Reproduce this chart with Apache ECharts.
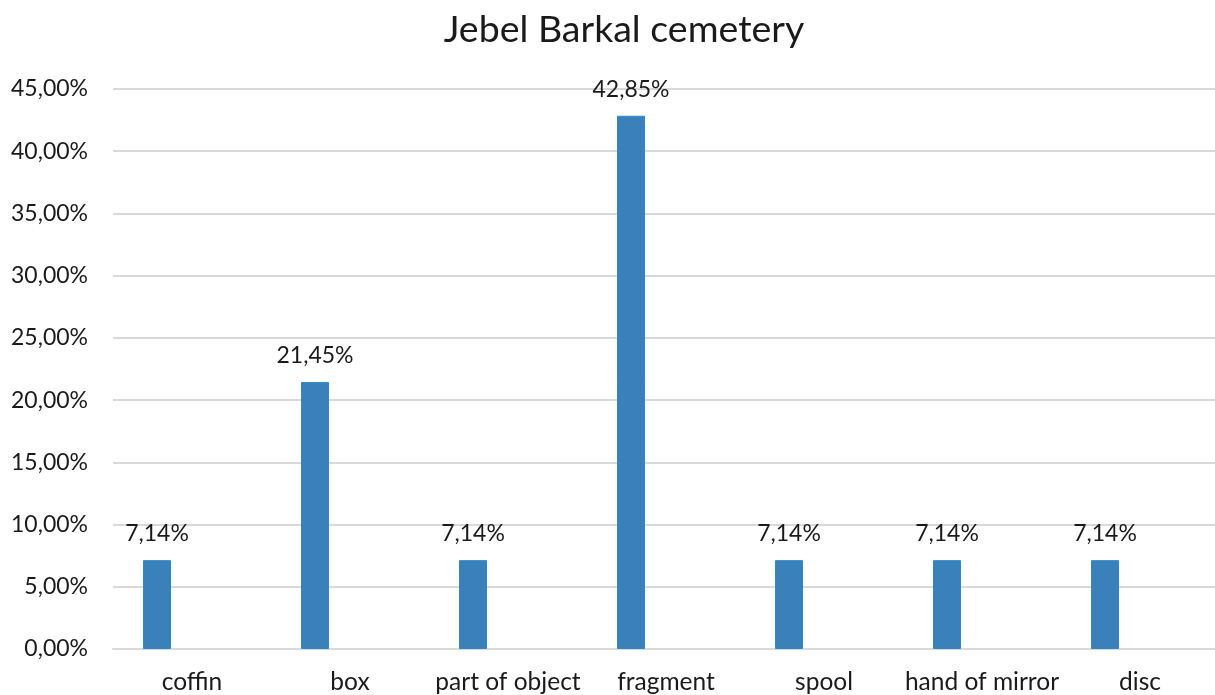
<!DOCTYPE html>
<html>
<head>
<meta charset="utf-8">
<script src="https://cdn.jsdelivr.net/npm/echarts@6/dist/echarts.min.js"></script>
<style>
  html, body { margin: 0; padding: 0; background: #fff; overflow: hidden; }
  /* plot runs slightly past the right edge of the window */
  #chart { width: 1219px; height: 695px; }
</style>
</head>
<body>
<div id="chart"></div>
<script>
// Share of finds by object type (percent)
const categories = ['coffin', 'box', 'part of object', 'fragment', 'spool', 'hand of mirror', 'disc'];
const shares = [7.14, 21.45, 7.14, 42.85, 7.14, 7.14, 7.14];
// second (empty) series slot keeps the bars left of each category centre
const emptySlot = [null, null, null, null, null, null, null];

const FONT = 'Lato, "Open Sans", sans-serif';
const TEXT = '#1a1a1a';
const pct = v => Number(v).toFixed(2).replace('.', ',') + '%';

const chart = echarts.init(document.getElementById('chart'));
chart.setOption({
  animation: false,
  backgroundColor: '#ffffff',
  title: {
    text: 'Jebel Barkal cemetery',
    left: 619,
    top: 6,
    textAlign: 'center',
    textStyle: { fontFamily: FONT, fontSize: 37.5, fontWeight: 'normal', color: TEXT }
  },
  grid: { left: 113, right: 0, top: 89, bottom: 46, containLabel: false },
  xAxis: {
    type: 'category',
    data: categories,
    axisTick: { show: false },
    axisLine: { lineStyle: { color: '#d9d9d9', width: 2 } },
    axisLabel: { fontFamily: FONT, fontSize: 24.5, color: TEXT, margin: 21, interval: 0 }
  },
  yAxis: {
    type: 'value',
    min: 0,
    max: 45,
    interval: 5,
    axisLine: { show: false },
    axisTick: { show: false },
    splitLine: { lineStyle: { color: '#d9d9d9', width: 2 } },
    axisLabel: { fontFamily: FONT, fontSize: 23, color: TEXT, margin: 25, formatter: pct }
  },
  series: [
    {
      name: 'share',
      type: 'bar',
      data: shares,
      barWidth: 28,
      barGap: '150%',
      itemStyle: { color: '#3a80ba', borderColor: '#2c88c8', borderWidth: 1 },
      label: {
        show: true,
        position: 'top',
        distance: 15,
        fontFamily: FONT,
        fontSize: 23,
        color: TEXT,
        formatter: p => pct(p.value)
      }
    },
    {
      name: 'slot',
      type: 'bar',
      data: emptySlot,
      barWidth: 28
    }
  ]
});
</script>
</body>
</html>
